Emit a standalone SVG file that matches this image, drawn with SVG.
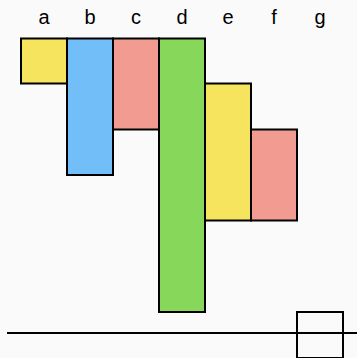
<svg xmlns="http://www.w3.org/2000/svg" width="357" height="358" viewBox="0 0 357 358">
<style>
.lbl{font-family:"Liberation Sans",Arial,sans-serif;font-size:20px;fill:#000;text-anchor:middle}
.bar{stroke:#000;stroke-width:2}
.y{fill:#f6e35e}.b{fill:#72bef8}.p{fill:#f29b91}.g{fill:#86d75a}
</style>
<rect width="357" height="358" fill="#fafafa"/>
<g id="labels">
<text class="lbl" x="44" y="24">a</text>
<text class="lbl" x="90" y="24">b</text>
<text class="lbl" x="136" y="24">c</text>
<text class="lbl" x="182" y="24">d</text>
<text class="lbl" x="228" y="24">e</text>
<text class="lbl" x="274" y="24">f</text>
<text class="lbl" x="320" y="24">g</text>
</g>
<g id="connectors">
<line x1="7" y1="333" x2="357" y2="333" stroke="#000" stroke-width="2"/>
</g>
<g id="a"><rect class="bar y" x="21" y="38.5" width="46" height="45"/></g>
<g id="b"><rect class="bar b" x="67" y="38.5" width="46" height="136.5"/></g>
<g id="c"><rect class="bar p" x="113" y="38.5" width="46" height="91"/></g>
<g id="d"><rect class="bar g" x="159" y="38.5" width="46" height="273.5"/></g>
<g id="e"><rect class="bar y" x="205" y="83.5" width="46" height="137"/></g>
<g id="f"><rect class="bar p" x="251" y="129.5" width="46" height="91"/></g>
<g id="g"><rect class="bar" fill="none" x="297" y="312" width="46" height="46"/></g>
</svg>
